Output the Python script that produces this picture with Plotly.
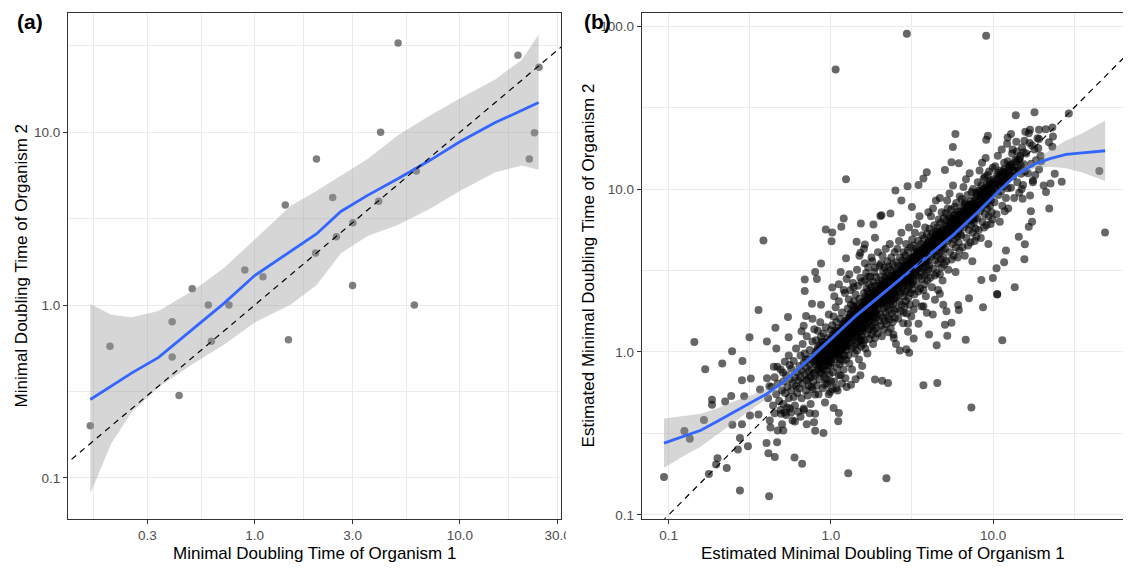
import plotly.graph_objects as go

W, H = 1133, 569
FONT = "Liberation Sans, Arial, Helvetica, sans-serif"

# ---------------- panel (a): minimal doubling times ----------------
org1_a = [0.158, 0.197, 0.396, 0.396, 0.428, 0.496, 0.594, 0.615, 0.749, 0.895,
          1.097, 1.46, 1.41, 2.0, 1.98, 5.0, 19.2, 24.3, 23.1, 21.8,
          4.11, 2.40, 6.13, 4.02, 3.01, 2.50, 3.0, 6.0]
org2_a = [0.2, 0.578, 0.80, 0.50, 0.30, 1.245, 1.0, 0.618, 1.0, 1.595,
          1.46, 0.63, 3.79, 7.0, 2.0, 32.9, 27.9, 23.8, 9.95, 7.0,
          10.0, 4.19, 5.97, 3.99, 3.0, 2.49, 1.30, 1.0]

# loess fit with its confidence band
smooth_a_x = [0.158, 0.200, 0.251, 0.340, 0.501, 0.708, 1.00, 1.50, 2.00, 2.63,
              3.55, 5.01, 7.08, 10.0, 14.8, 20.0, 24.2]
smooth_a_fit = [0.284, 0.340, 0.404, 0.498, 0.724, 1.023, 1.483, 2.042, 2.582, 3.483,
                4.315, 5.408, 6.839, 8.81, 11.35, 13.37, 14.86]
smooth_a_hi = [1.016, 0.879, 0.851, 0.925, 1.216, 1.641, 2.399, 3.758, 4.581, 5.623,
               6.998, 9.66, 12.42, 15.70, 20.14, 26.18, 36.73]
smooth_a_lo = [0.0813, 0.158, 0.240, 0.335, 0.457, 0.590, 0.794, 1.007, 1.303, 1.995,
               2.512, 2.917, 3.589, 4.571, 5.861, 6.427, 6.067]

# ---------------- panel (b): estimated minimal doubling times ----------------
est_sparse = [
    (0.0936, 0.171), (1.07, 54.2), (2.94, 89.8), (9.06, 87.3), (1.24, 11.5), (0.384, 4.84),
    (1.20, 6.59), (0.93, 5.65), (1.02, 5.41), (1.16, 5.87), (1.01, 4.79), (1.53, 6.14),
    (1.83, 6.06), (2.02, 6.84), (1.44, 4.75), (1.62, 4.57), (1.87, 5.02), (1.52, 4.07),
    (1.24, 3.76), (0.87, 3.49), (0.80, 3.10), (0.69, 2.79), (0.82, 2.80), (0.69, 2.37),
    (1.02, 2.49),
    (13.8, 28.4), (18.0, 29.6), (29.3, 29.1), (5.86, 21.8), (9.28, 21.2), (9.07, 20.1),
    (5.65, 18.1), (12.9, 21.8), (12.3, 20.7), (15.8, 22.5), (16.9, 23.1), (19.2, 23.1),
    (21.1, 23.3), (23.2, 23.9), (23.4, 21.0), (22.1, 19.4), (23.2, 18.2), (19.2, 20.3),
    (45.2, 12.9), (49.0, 5.42), (26.5, 11.1), (24.0, 12.4), (22.6, 10.8), (20.5, 10.5),
    (21.2, 9.59), (22.2, 7.59), (17.6, 11.3), (16.9, 9.14), (17.1, 7.30), (17.4, 6.29),
    (16.6, 5.86), (15.2, 8.73), (14.4, 5.10), (15.7, 4.59), (15.6, 3.71), (13.6, 2.50),
    (11.7, 3.55), (12.0, 4.19), (10.6, 2.25), (9.97, 2.84), (8.46, 2.77), (10.5, 3.27),
    (3.90, 12.7), (3.72, 11.6), (5.05, 13.1), (5.54, 14.6), (6.15, 14.4), (2.50, 9.80),
    (2.97, 10.4), (3.47, 10.6), (2.05, 6.90), (2.33, 7.07), (2.72, 8.52), (3.16, 7.77),
    (4.70, 8.81),
    (0.144, 1.15), (0.168, 0.783), (0.214, 0.849), (0.246, 1.01), (0.285, 0.881),
    (0.315, 1.23), (0.358, 1.81), (0.403, 1.16), (0.455, 1.41), (0.544, 1.64),
    (0.549, 1.23), (0.703, 1.66), (0.765, 1.98), (0.869, 1.95), (0.659, 1.34),
    (0.461, 1.05), (0.468, 0.813), (0.445, 0.813), (0.507, 0.748), (0.557, 0.833),
    (0.404, 0.690), (0.321, 0.688), (0.283, 0.671), (0.366, 0.589), (0.418, 0.617),
    (0.185, 0.510), (0.185, 0.475), (0.243, 0.536), (0.223, 0.496), (0.292, 0.534),
    (0.165, 0.383), (0.125, 0.327), (0.135, 0.293), (0.247, 0.357), (0.283, 0.360),
    (0.317, 0.407), (0.358, 0.413), (0.275, 0.297), (0.267, 0.252), (0.308, 0.264),
    (0.401, 0.276), (0.466, 0.279), (0.412, 0.239), (0.451, 0.227), (0.200, 0.223),
    (0.196, 0.204), (0.228, 0.194), (0.177, 0.178), (0.275, 0.141), (0.416, 0.130),
    (0.597, 0.225), (0.665, 0.206), (1.28, 0.180), (0.90, 0.318), (0.80, 0.328),
    (0.787, 0.371), (0.80, 0.417), (1.04, 0.453), (1.12, 0.422), (1.11, 0.376),
    (0.681, 0.441), (0.600, 0.374), (0.519, 0.425), (0.509, 0.330), (0.569, 0.425),
    (0.493, 0.417), (0.424, 0.344), (0.539, 0.457), (1.02, 0.592), (0.80, 0.549),
    (2.20, 0.168), (7.35, 0.457), (3.72, 0.624), (4.53, 0.644), (1.87, 0.678),
    (2.07, 0.666), (2.25, 0.644), (11.4, 1.18), (6.78, 1.19), (4.49, 1.10), (5.22, 1.26),
    (3.24, 1.21), (4.03, 1.28), (3.04, 0.99), (2.66, 1.02), (2.92, 1.04), (2.52, 1.12),
    (5.54, 1.51), (5.05, 1.47), (3.47, 1.49), (2.99, 1.49), (2.99, 1.33), (2.44, 1.22),
    (8.67, 1.88), (10.6, 2.27), (7.11, 2.14), (6.09, 1.94), (6.15, 1.81), (5.16, 1.78),
    (4.70, 2.28), (4.38, 2.09), (4.93, 1.95), (4.25, 1.70), (3.90, 1.74), (3.72, 1.91),
    (3.24, 1.82), (2.81, 1.74),
    (0.92, 0.63), (1.00, 0.66), (1.08, 0.60), (1.17, 0.64), (1.25, 0.61), (1.33, 0.63),
    (1.42, 0.68), (1.52, 0.72), (0.97, 0.55), (1.12, 0.72),
    (1.05, 2.20), (1.12, 2.60), (1.20, 2.40), (1.30, 3.00), (1.38, 2.50), (1.45, 3.20),
    (1.55, 2.70), (1.62, 3.50), (1.70, 2.90), (1.78, 3.80), (1.88, 3.30), (1.95, 4.10),
    (1.15, 3.10), (1.50, 3.90), (1.25, 2.80), (1.60, 4.30),
]

est_core_low = [
    (0.41, 0.52), (0.42, 0.38), (0.43, 0.61), (0.44, 0.47), (0.45, 0.70), (0.45, 0.42),
    (0.46, 0.55), (0.47, 0.33), (0.47, 0.64), (0.48, 0.50), (0.49, 0.78), (0.49, 0.44),
    (0.50, 0.58), (0.50, 0.36),
    (0.51, 0.66), (0.51, 0.48), (0.52, 0.87), (0.52, 0.56), (0.53, 0.41), (0.53, 0.72),
    (0.54, 0.61), (0.55, 0.52), (0.55, 0.95), (0.56, 0.68), (0.56, 0.45), (0.57, 0.58),
    (0.57, 0.79), (0.58, 0.64), (0.58, 0.38), (0.59, 0.53), (0.59, 0.88), (0.60, 0.70),
    (0.60, 0.47), (0.61, 0.62), (0.61, 1.05), (0.62, 0.56), (0.62, 0.75), (0.63, 0.43),
    (0.63, 0.67),
    (0.64, 0.82), (0.64, 0.60), (0.65, 0.95), (0.65, 0.70), (0.66, 0.52), (0.66, 0.77),
    (0.67, 1.12), (0.67, 0.64), (0.68, 0.86), (0.68, 0.45), (0.69, 0.73), (0.69, 0.98),
    (0.70, 0.58), (0.70, 0.81), (0.71, 0.67), (0.71, 1.25), (0.72, 0.90), (0.72, 0.54),
    (0.73, 0.76), (0.73, 0.62), (0.74, 1.03), (0.74, 0.84), (0.75, 0.70), (0.75, 0.48),
    (0.76, 0.93), (0.76, 0.78), (0.77, 0.59), (0.77, 1.16), (0.78, 0.87), (0.78, 0.66),
    (0.79, 0.74), (0.79, 1.38), (0.65, 0.40), (0.68, 1.45), (0.71, 0.36), (0.74, 0.42),
    (0.77, 1.60), (0.70, 0.90), (0.73, 0.69), (0.76, 0.61),
    (0.80, 0.95), (0.80, 0.72), (0.81, 1.18), (0.81, 0.84), (0.82, 0.62), (0.82, 1.02),
    (0.83, 0.78), (0.83, 1.35), (0.84, 0.90), (0.84, 0.55), (0.85, 1.10), (0.85, 0.68),
    (0.86, 0.97), (0.86, 1.52), (0.87, 0.81), (0.87, 1.24), (0.88, 0.74), (0.88, 1.05),
    (0.89, 0.60), (0.89, 0.93), (0.90, 1.30), (0.90, 0.86), (0.91, 1.15), (0.91, 0.70),
    (0.92, 1.00), (0.92, 0.49), (0.93, 0.88), (0.93, 1.42), (0.94, 0.77), (0.94, 1.08),
    (0.95, 0.96), (0.95, 0.64), (0.96, 1.22), (0.96, 0.83), (0.97, 1.70), (0.97, 1.02),
    (0.98, 0.73), (0.98, 0.91), (0.99, 1.13), (0.99, 0.57), (1.00, 0.99), (1.00, 1.36),
    (0.82, 0.88), (0.85, 0.82), (0.88, 1.16), (0.91, 0.95), (0.94, 0.68), (0.97, 0.86),
    (0.83, 1.06), (0.87, 0.98), (0.90, 0.78), (0.93, 1.04), (0.96, 1.10), (0.99, 0.82),
    (0.86, 0.75),
]

est_core_mid = [
    (1.01, 1.20), (1.01, 0.86), (1.02, 1.46), (1.02, 1.04), (1.03, 0.75), (1.03, 1.28),
    (1.04, 0.95), (1.04, 1.65), (1.05, 1.12), (1.05, 0.66), (1.06, 1.35), (1.06, 0.90),
    (1.07, 1.18), (1.07, 1.88), (1.08, 1.00), (1.08, 1.52), (1.09, 0.80), (1.09, 1.25),
    (1.10, 1.08), (1.10, 0.58), (1.11, 1.40), (1.11, 0.93), (1.12, 1.15), (1.12, 2.05),
    (1.13, 1.30), (1.13, 0.84), (1.14, 1.02), (1.14, 1.60), (1.15, 1.22), (1.15, 0.72),
    (1.16, 0.97), (1.16, 1.36), (1.17, 1.11), (1.17, 1.75), (1.18, 0.88), (1.18, 1.27),
    (1.19, 1.05), (1.19, 1.48), (1.20, 0.78), (1.20, 1.18), (1.21, 1.33), (1.21, 0.95),
    (1.22, 2.30), (1.22, 1.09), (1.23, 1.56), (1.23, 0.69), (1.24, 1.24), (1.24, 0.90),
    (1.25, 1.42), (1.25, 1.03), (1.03, 1.10), (1.06, 1.22), (1.09, 0.98), (1.12, 1.31),
    (1.15, 1.07), (1.18, 1.42), (1.21, 1.15), (1.24, 1.08), (1.05, 0.98), (1.08, 1.32),
    (1.11, 1.20), (1.14, 0.90), (1.17, 1.28), (1.20, 1.50), (1.23, 1.20),
    (1.26, 1.55), (1.26, 1.10), (1.27, 1.85), (1.27, 1.30), (1.28, 0.95), (1.28, 1.62),
    (1.29, 1.20), (1.29, 2.10), (1.30, 1.42), (1.30, 0.85), (1.31, 1.70), (1.31, 1.15),
    (1.32, 1.50), (1.32, 2.40), (1.33, 1.28), (1.33, 1.95), (1.34, 1.05), (1.34, 1.60),
    (1.35, 1.36), (1.35, 0.78), (1.36, 1.78), (1.36, 1.18), (1.37, 1.48), (1.37, 2.65),
    (1.38, 1.66), (1.38, 1.08), (1.39, 1.32), (1.39, 2.05), (1.40, 1.56), (1.40, 0.98),
    (1.41, 1.24), (1.41, 1.82), (1.42, 1.44), (1.42, 2.25), (1.43, 1.12), (1.43, 1.64),
    (1.44, 1.35), (1.44, 1.92), (1.45, 1.02), (1.45, 1.52), (1.46, 1.74), (1.46, 1.26),
    (1.47, 2.55), (1.47, 1.40), (1.48, 1.15), (1.48, 1.88), (1.49, 1.58), (1.49, 0.90),
    (1.50, 1.32), (1.50, 2.12), (1.51, 1.70), (1.51, 1.20), (1.52, 1.48), (1.52, 2.85),
    (1.53, 1.08), (1.53, 1.80), (1.54, 1.38), (1.54, 1.62), (1.55, 2.02), (1.55, 1.25),
    (1.56, 1.52), (1.56, 0.82), (1.57, 1.90), (1.57, 1.34), (1.58, 1.68), (1.58, 1.12),
    (1.30, 1.60), (1.34, 1.40), (1.38, 1.90), (1.42, 1.30), (1.46, 1.55), (1.50, 1.75),
    (1.54, 1.18), (1.33, 1.72), (1.48, 1.46),
    (1.59, 1.95), (1.59, 1.40), (1.60, 2.30), (1.60, 1.62), (1.61, 1.18), (1.61, 2.05),
    (1.62, 1.50), (1.62, 2.75), (1.63, 1.80), (1.63, 1.05), (1.64, 2.20), (1.64, 1.45),
    (1.65, 1.92), (1.65, 3.05), (1.66, 1.60), (1.66, 2.45), (1.67, 1.30), (1.67, 2.02),
    (1.68, 1.72), (1.68, 0.98), (1.69, 2.35), (1.69, 1.52), (1.70, 1.88), (1.70, 3.30),
    (1.71, 2.12), (1.71, 1.38), (1.72, 1.66), (1.72, 2.60), (1.73, 1.98), (1.73, 1.20),
    (1.74, 1.55), (1.74, 2.28), (1.75, 1.82), (1.75, 2.90), (1.76, 1.42), (1.76, 2.08),
    (1.77, 1.70), (1.77, 2.50), (1.78, 1.28), (1.78, 1.92), (1.79, 2.20), (1.79, 1.58),
    (1.80, 3.60), (1.80, 1.78), (1.81, 1.45), (1.81, 2.38), (1.82, 2.02), (1.82, 1.12),
    (1.83, 1.65), (1.83, 2.70), (1.84, 2.15), (1.84, 1.35), (1.85, 1.88), (1.85, 3.10),
    (1.86, 1.52), (1.86, 2.32), (1.87, 1.75), (1.87, 1.22), (1.88, 2.05), (1.88, 2.55),
    (1.89, 1.62), (1.89, 2.88), (1.90, 1.95), (1.90, 1.40), (1.92, 2.25), (1.92, 1.70),
    (1.94, 2.10), (1.94, 1.30), (1.96, 1.85), (1.96, 2.62), (1.98, 1.55), (1.98, 2.40),
    (1.99, 2.00), (1.99, 3.40), (1.62, 1.90), (1.68, 2.15), (1.74, 1.92), (1.80, 2.12),
    (1.86, 1.98), (1.92, 2.05),
    (2.01, 2.45), (2.01, 1.70), (2.02, 2.90), (2.02, 2.10), (2.03, 1.45), (2.04, 2.60),
    (2.04, 3.50), (2.05, 1.95), (2.06, 2.30), (2.06, 1.25), (2.07, 2.75), (2.08, 2.05),
    (2.08, 3.90), (2.09, 1.62), (2.10, 2.45), (2.10, 3.15), (2.11, 1.85), (2.12, 2.62),
    (2.12, 1.38), (2.13, 2.20), (2.14, 3.30), (2.14, 2.00), (2.15, 1.55), (2.16, 2.85),
    (2.16, 2.35), (2.17, 1.75), (2.18, 4.30), (2.18, 2.55), (2.19, 2.12), (2.20, 1.48),
    (2.20, 3.05), (2.21, 2.40), (2.22, 1.90), (2.22, 2.72), (2.23, 3.60), (2.24, 2.25),
    (2.24, 1.65), (2.25, 2.95), (2.26, 2.08), (2.26, 1.32), (2.27, 2.58), (2.28, 3.35),
    (2.28, 1.82), (2.29, 2.30), (2.30, 2.80), (2.30, 1.58), (2.31, 4.60), (2.32, 2.18),
    (2.32, 2.50), (2.33, 1.95), (2.34, 3.20), (2.34, 1.40), (2.35, 2.65), (2.36, 2.05),
    (2.36, 3.80), (2.37, 2.38), (2.38, 1.72), (2.38, 2.92), (2.39, 2.25), (2.40, 1.52),
    (2.40, 3.45), (2.41, 2.55), (2.42, 1.98), (2.42, 2.78), (2.43, 1.28), (2.44, 2.42),
    (2.44, 3.10), (2.45, 2.12), (2.46, 1.80), (2.46, 2.68), (2.47, 4.10), (2.48, 2.32),
    (2.48, 1.62), (2.49, 2.95), (2.50, 2.20), (2.50, 2.60), (2.05, 2.55), (2.15, 2.30),
    (2.25, 2.45), (2.35, 2.30),
    (2.51, 3.00), (2.52, 2.15), (2.53, 3.55), (2.54, 2.60), (2.55, 1.85), (2.56, 3.20),
    (2.57, 4.30), (2.58, 2.42), (2.59, 2.85), (2.60, 1.60), (2.61, 3.40), (2.62, 2.55),
    (2.63, 4.80), (2.64, 2.05), (2.65, 3.05), (2.66, 2.70), (2.67, 3.80), (2.68, 1.78),
    (2.69, 2.95), (2.70, 2.30), (2.71, 3.35), (2.72, 5.40), (2.73, 2.62), (2.74, 1.95),
    (2.75, 3.15), (2.76, 2.48), (2.77, 3.65), (2.78, 2.82), (2.79, 1.50), (2.80, 2.20),
    (2.81, 4.10), (2.82, 3.00), (2.83, 2.58), (2.84, 3.45), (2.85, 1.90), (2.86, 2.75),
    (2.87, 3.90), (2.88, 2.35), (2.89, 3.20), (2.90, 2.05), (2.91, 4.60), (2.92, 2.90),
    (2.93, 3.55), (2.94, 1.72), (2.95, 2.65), (2.96, 3.10), (2.97, 2.40), (2.98, 4.20),
    (2.99, 3.35), (3.00, 2.15), (3.01, 2.80), (3.02, 3.75), (3.03, 5.80), (3.04, 2.55),
    (3.05, 3.05), (3.06, 1.95), (3.07, 3.50), (3.08, 2.70), (3.09, 4.40), (3.10, 2.30),
    (3.11, 3.25), (3.12, 2.95), (3.13, 1.65), (3.14, 3.80), (3.15, 2.60), (3.16, 3.15),
    (3.17, 4.90), (3.18, 2.42), (3.19, 3.45), (3.20, 2.85), (2.60, 3.00), (2.70, 2.80),
    (2.80, 3.30), (2.90, 3.05), (3.00, 3.10), (3.10, 3.60), (2.65, 2.35), (2.75, 2.90),
    (2.85, 3.20), (2.95, 3.40),
]

est_core_high = [
    (3.21, 3.80), (3.22, 2.70), (3.24, 4.50), (3.25, 3.30), (3.27, 2.25), (3.28, 4.05),
    (3.30, 5.40), (3.31, 3.05), (3.33, 3.60), (3.34, 2.00), (3.36, 4.30), (3.37, 3.20),
    (3.39, 6.10), (3.40, 2.60), (3.42, 3.90), (3.43, 3.45), (3.45, 4.80), (3.46, 2.35),
    (3.48, 3.70), (3.49, 2.90), (3.51, 4.20), (3.52, 6.80), (3.54, 3.30), (3.55, 2.45),
    (3.57, 4.00), (3.58, 3.10), (3.60, 4.60), (3.61, 3.55), (3.63, 1.90), (3.64, 2.80),
    (3.66, 5.20), (3.67, 3.80), (3.69, 3.25), (3.70, 4.40), (3.72, 2.40), (3.73, 3.50),
    (3.75, 4.95), (3.76, 2.95), (3.78, 4.10), (3.79, 2.60), (3.81, 5.80), (3.82, 3.65),
    (3.84, 4.50), (3.85, 2.20), (3.87, 3.35), (3.88, 3.95), (3.90, 3.05), (3.91, 5.30),
    (3.93, 4.25), (3.94, 2.75), (3.96, 3.60), (3.97, 4.70), (3.99, 7.20), (4.00, 3.20),
    (3.30, 3.70), (3.40, 4.10), (3.50, 3.85), (3.60, 3.95), (3.70, 3.70), (3.80, 4.30),
    (3.90, 4.00), (3.35, 2.95), (3.55, 3.40), (3.75, 3.60), (3.95, 4.40),
    (4.02, 4.80), (4.04, 3.40), (4.06, 5.70), (4.08, 4.15), (4.10, 2.85), (4.12, 5.10),
    (4.14, 6.80), (4.16, 3.85), (4.18, 4.55), (4.20, 2.50), (4.22, 5.40), (4.24, 4.00),
    (4.26, 7.60), (4.28, 3.25), (4.30, 4.90), (4.32, 4.35), (4.34, 6.00), (4.36, 2.95),
    (4.38, 4.70), (4.40, 3.65), (4.42, 5.30), (4.44, 8.50), (4.46, 4.15), (4.48, 3.05),
    (4.50, 5.00), (4.52, 3.90), (4.54, 5.80), (4.56, 4.45), (4.58, 2.40), (4.60, 3.50),
    (4.62, 6.50), (4.64, 4.75), (4.66, 4.05), (4.68, 5.50), (4.70, 3.00), (4.72, 4.40),
    (4.74, 6.20), (4.76, 3.70), (4.78, 5.15), (4.80, 3.30), (4.82, 7.20), (4.84, 4.60),
    (4.86, 5.60), (4.88, 2.75), (4.90, 4.20), (4.92, 4.95), (4.94, 3.80), (4.96, 6.60),
    (4.98, 5.30), (5.00, 3.45), (4.15, 4.60), (4.35, 5.05), (4.55, 4.85), (4.75, 4.90),
    (4.95, 4.60), (4.25, 4.45), (4.45, 5.45), (4.65, 5.20), (4.85, 5.00),
    (5.03, 6.00), (5.06, 4.30), (5.09, 7.10), (5.12, 5.20), (5.15, 3.60), (5.18, 6.40),
    (5.21, 8.50), (5.24, 4.80), (5.27, 5.70), (5.30, 3.20), (5.33, 6.80), (5.36, 5.00),
    (5.39, 9.40), (5.42, 4.10), (5.45, 6.10), (5.48, 5.45), (5.51, 7.50), (5.54, 3.70),
    (5.57, 5.90), (5.60, 4.60), (5.63, 6.60), (5.66, 10.5), (5.69, 5.20), (5.72, 3.90),
    (5.75, 6.30), (5.78, 4.90), (5.81, 7.80), (5.84, 5.60), (5.87, 3.10), (5.90, 4.40),
    (5.93, 8.20), (5.96, 6.00), (5.99, 5.10), (6.02, 6.90), (6.05, 3.80), (6.08, 5.50),
    (6.11, 7.30), (6.14, 4.70), (6.17, 6.50), (6.20, 4.20), (6.23, 9.00), (6.26, 5.80),
    (6.29, 7.00), (5.20, 5.90), (5.40, 6.20), (5.60, 5.80), (5.80, 6.40), (6.00, 6.10),
    (6.20, 6.70), (5.30, 5.40), (5.50, 6.60), (5.70, 6.90), (5.90, 5.70), (6.10, 6.20),
    (5.25, 7.60), (5.85, 7.00), (6.25, 5.30),
    (6.33, 7.30), (6.37, 5.20), (6.41, 8.70), (6.45, 6.30), (6.49, 4.40), (6.53, 7.80),
    (6.57, 10.3), (6.61, 5.80), (6.65, 6.90), (6.69, 3.90), (6.73, 8.30), (6.77, 6.10),
    (6.81, 11.5), (6.85, 5.00), (6.89, 7.50), (6.93, 6.60), (6.97, 9.20), (7.01, 4.50),
    (7.05, 7.10), (7.09, 5.60), (7.13, 8.00), (7.17, 12.5), (7.21, 6.40), (7.25, 4.70),
    (7.29, 7.70), (7.33, 6.00), (7.37, 9.60), (7.41, 6.80), (7.45, 3.60), (7.49, 5.40),
    (7.53, 10.0), (7.57, 7.30), (7.61, 6.20), (7.65, 8.50), (7.69, 4.80), (7.73, 6.70),
    (7.77, 8.90), (7.81, 5.70), (7.85, 7.90), (7.89, 5.10), (6.50, 7.20), (6.80, 7.60),
    (7.10, 7.40), (7.40, 8.10), (7.70, 7.60), (6.65, 8.10), (6.95, 7.90), (7.25, 8.40),
    (7.55, 6.50), (7.85, 9.50),
    (7.95, 9.20), (8.00, 6.60), (8.05, 11.0), (8.10, 8.00), (8.15, 5.60), (8.20, 9.80),
    (8.25, 13.0), (8.30, 7.30), (8.35, 8.70), (8.40, 5.00), (8.45, 10.5), (8.50, 7.70),
    (8.55, 14.5), (8.60, 6.30), (8.65, 9.50), (8.70, 8.30), (8.75, 11.6), (8.80, 5.80),
    (8.85, 9.00), (8.90, 7.00), (8.95, 10.1), (9.00, 15.5), (9.05, 8.10), (9.10, 6.00),
    (9.15, 9.70), (9.20, 7.60), (9.25, 12.2), (9.30, 8.60), (9.35, 4.60), (9.40, 6.80),
    (9.45, 12.8), (9.50, 9.30), (9.55, 7.90), (9.60, 10.8), (9.65, 6.10), (9.70, 8.50),
    (9.75, 11.3), (9.80, 7.20), (9.85, 10.0), (9.90, 6.50), (9.95, 13.5), (8.30, 9.60),
    (8.70, 10.0), (9.10, 10.6), (9.50, 11.0), (9.90, 9.40), (8.50, 9.10), (8.90, 11.9),
    (9.30, 10.3),
    (10.1, 11.5), (10.2, 8.30), (10.3, 13.8), (10.4, 10.0), (10.5, 7.00), (10.6, 12.3),
    (10.7, 16.0), (10.8, 9.20), (10.9, 10.9), (11.0, 6.30), (11.1, 13.0), (11.2, 9.70),
    (11.3, 17.5), (11.4, 7.90), (11.5, 11.9), (11.6, 10.4), (11.7, 14.5), (11.8, 7.30),
    (11.9, 11.2), (12.0, 8.80), (12.1, 12.6), (12.2, 19.0), (12.3, 10.1), (12.4, 7.60),
    (12.5, 12.1), (10.5, 11.0), (11.0, 12.0), (11.5, 12.8), (12.0, 11.4), (12.5, 13.6),
    (10.8, 12.6), (11.3, 11.1), (11.8, 13.3), (12.3, 14.8), (10.2, 10.6),
    (12.7, 14.0), (12.9, 10.2), (13.1, 16.5), (13.3, 12.0), (13.5, 8.80), (13.7, 15.0),
    (13.9, 19.5), (14.1, 11.0), (14.3, 13.0), (14.5, 9.50), (14.7, 16.0), (14.9, 12.4),
    (15.1, 18.0), (15.3, 10.6), (15.5, 14.2), (15.7, 12.8), (13.0, 13.6), (13.6, 13.0),
    (14.2, 15.2), (14.8, 14.0), (15.4, 16.8), (13.2, 17.5), (14.0, 17.0), (15.0, 10.0),
    (15.6, 19.8),
    (16.0, 16.5), (16.4, 12.5), (16.8, 19.2), (17.2, 14.3), (17.6, 11.0), (18.0, 17.5),
    (18.4, 15.0), (18.8, 20.5), (19.2, 13.2), (19.6, 16.0), (16.6, 22.0), (17.4, 18.5),
    (18.2, 12.2), (19.0, 17.8), (19.8, 14.8),
]

# the densest ridge of the cloud, close to the fitted curve
est_core_ridge = [
    (0.80, 0.88), (0.81, 1.00), (0.83, 0.95), (0.84, 0.80), (0.85, 0.92), (0.86, 1.05),
    (0.87, 0.87), (0.88, 0.96), (0.89, 1.10), (0.90, 0.91), (0.91, 0.82), (0.92, 1.06),
    (0.93, 0.97), (0.94, 0.89), (0.95, 1.14), (0.96, 1.00), (0.97, 0.93), (0.98, 1.08),
    (0.99, 1.20), (1.00, 0.90),
    (1.01, 1.05), (1.02, 1.16), (1.03, 0.98), (1.04, 1.24), (1.05, 1.08), (1.06, 1.00),
    (1.07, 1.30), (1.08, 1.14), (1.09, 1.02), (1.10, 1.22), (1.11, 1.10), (1.12, 0.97),
    (1.13, 1.18), (1.14, 1.36), (1.15, 1.12), (1.16, 1.26), (1.17, 1.04), (1.18, 1.20),
    (1.19, 1.34), (1.20, 1.10), (1.21, 1.24), (1.22, 1.45), (1.23, 1.30), (1.24, 1.15),
    (1.25, 1.38),
    (1.26, 1.25), (1.28, 1.44), (1.30, 1.30), (1.32, 1.58), (1.34, 1.22), (1.36, 1.48),
    (1.38, 1.36), (1.40, 1.68), (1.42, 1.52), (1.44, 1.40), (1.46, 1.64), (1.48, 1.78),
    (1.50, 1.50), (1.52, 1.62), (1.54, 1.85), (1.56, 1.42), (1.58, 1.72),
    (1.60, 1.80), (1.62, 1.62), (1.64, 1.98), (1.66, 1.75), (1.68, 2.10), (1.70, 1.66),
    (1.72, 1.90), (1.74, 2.15), (1.76, 1.82), (1.78, 2.02), (1.80, 1.92), (1.82, 2.28),
    (1.84, 1.85), (1.86, 2.10), (1.88, 2.22), (1.90, 1.78), (1.92, 2.40), (1.94, 2.00),
    (1.96, 2.18), (1.98, 2.30),
    (2.00, 2.10), (2.03, 2.36), (2.06, 2.55), (2.09, 2.20), (2.12, 2.45), (2.15, 2.05),
    (2.18, 2.70), (2.21, 2.28), (2.24, 2.52), (2.27, 2.40), (2.30, 2.18), (2.33, 2.75),
    (2.36, 2.48), (2.39, 2.62), (2.42, 2.32), (2.45, 2.85), (2.48, 2.58),
    (2.52, 2.75), (2.56, 2.92), (2.60, 2.60), (2.64, 3.10), (2.68, 2.82), (2.72, 3.00),
    (2.76, 2.70), (2.80, 3.25), (2.84, 2.95), (2.88, 3.15), (2.92, 2.78), (2.96, 3.35),
    (3.00, 3.05), (3.04, 3.25), (3.08, 2.90), (3.12, 3.50), (3.16, 3.20),
    (3.20, 3.40), (3.25, 3.85), (3.30, 3.50), (3.35, 3.25), (3.40, 3.70), (3.45, 4.05),
    (3.50, 3.55), (3.55, 3.80), (3.60, 4.20), (3.65, 3.60), (3.70, 3.95), (3.75, 4.35),
    (3.80, 3.80), (3.85, 4.10), (3.90, 3.65), (3.95, 4.55),
    (4.00, 4.00), (4.06, 4.40), (4.12, 4.20), (4.18, 4.80), (4.24, 4.25), (4.30, 4.60),
    (4.36, 5.00), (4.42, 4.45), (4.48, 4.75), (4.54, 5.20), (4.60, 4.55), (4.66, 4.90),
    (4.72, 5.35), (4.78, 4.70), (4.84, 5.10), (4.90, 5.50), (4.96, 4.85),
    (5.05, 5.30), (5.15, 5.70), (5.25, 5.10), (5.35, 5.50), (5.45, 6.00), (5.55, 5.40),
    (5.65, 5.85), (5.75, 6.30), (5.85, 5.60), (5.95, 6.10), (6.05, 6.60), (6.15, 5.90),
    (6.25, 6.40),
    (6.35, 6.80), (6.50, 6.20), (6.65, 7.00), (6.80, 6.50), (6.95, 7.40), (7.10, 6.80),
    (7.25, 7.20), (7.40, 7.80), (7.55, 7.00), (7.70, 8.10), (7.85, 7.40),
    (8.00, 8.40), (8.20, 7.80), (8.40, 8.90), (8.60, 8.20), (8.80, 9.40), (9.00, 8.60),
    (9.20, 9.90), (9.40, 9.00), (9.60, 10.4), (9.80, 9.50),
    (10.0, 10.8), (10.3, 10.2), (10.6, 11.4), (10.9, 10.6), (11.2, 12.0), (11.5, 11.0),
    (11.8, 12.4), (12.1, 11.6), (12.4, 13.0), (12.7, 12.2), (13.0, 14.2), (13.4, 12.8),
    (13.8, 14.6), (14.2, 13.6), (14.6, 15.4),
]

smooth_b_x = [0.0936, 0.126, 0.158, 0.200, 0.251, 0.316, 0.398, 0.501, 0.708, 1.0,
              1.41, 2.0, 2.82, 3.98, 5.62, 7.94, 11.2, 14.1, 17.8, 22.4, 28.2, 35.5, 49.1]
smooth_b_fit = [0.276, 0.305, 0.331, 0.376, 0.428, 0.484, 0.550, 0.646, 0.875, 1.197,
                1.652, 2.203, 2.924, 3.855, 5.176, 7.129, 10.02, 12.33, 14.16, 15.38,
                16.33, 16.67, 17.18]
smooth_b_hi = [0.390, 0.403, 0.417, 0.452, 0.497, 0.537, 0.592, 0.679, 0.908, 1.233,
               1.698, 2.265, 3.006, 3.963, 5.321, 7.328, 10.30, 12.79, 15.00, 17.26,
               19.86, 21.98, 26.36]
smooth_b_lo = [0.195, 0.232, 0.263, 0.313, 0.368, 0.437, 0.511, 0.614, 0.843, 1.161,
               1.607, 2.143, 2.844, 3.750, 5.035, 6.934, 9.75, 11.89, 13.37, 13.71,
               13.43, 12.65, 11.19]

# axis breaks
ticks_a_x = [0.3, 1, 3, 10, 30]
labels_a_x = ["0.3", "1.0", "3.0", "10.0", "30.0"]
ticks_a_y = [0.1, 1, 10]
labels_a_y = ["0.1", "1.0", "10.0"]
ticks_b = [0.1, 1, 10, 100]
labels_b = ["0.1", "1.0", "10.0", "100.0"]

est_pairs = est_sparse + est_core_low + est_core_mid + est_core_high + est_core_ridge
org1_b = [p[0] for p in est_pairs]
org2_b = [p[1] for p in est_pairs]


def minor_breaks(major):
    """Geometric midpoints between log-scale breaks, plus one step beyond each end."""
    mids = [(a * b) ** 0.5 for a, b in zip(major[:-1], major[1:])]
    lo = major[0] / (mids[0] / major[0])
    hi = major[-1] * (major[-1] / mids[-1])
    return [lo] + mids + [hi]


RIBBON = "rgba(153,153,153,0.4)"
BLUE = "#3366FF"

fig = go.Figure()


def add_panel(xs, ys, sx, sfit, slo, shi, xa, ya, msize, alpha, ident):
    fig.add_trace(go.Scatter(x=xs, y=ys, mode="markers", xaxis=xa, yaxis=ya,
                             marker=dict(size=msize, color="black", opacity=alpha,
                                         line=dict(width=0)),
                             hoverinfo="skip"))
    fig.add_trace(go.Scatter(x=sx + sx[::-1], y=shi + slo[::-1], mode="lines",
                             fill="toself", fillcolor=RIBBON, line=dict(width=0),
                             xaxis=xa, yaxis=ya, hoverinfo="skip"))
    fig.add_trace(go.Scatter(x=sx, y=sfit, mode="lines", line=dict(color=BLUE, width=2.8),
                             xaxis=xa, yaxis=ya, hoverinfo="skip"))
    fig.add_trace(go.Scatter(x=ident, y=ident, mode="lines",
                             line=dict(color="black", width=1.2, dash="6px,5px"),
                             xaxis=xa, yaxis=ya, hoverinfo="skip"))


add_panel(org1_a, org2_a, smooth_a_x, smooth_a_fit, smooth_a_lo, smooth_a_hi,
          "x", "y", 7.5, 0.5, [0.01, 1000])
add_panel(org1_b, org2_b, smooth_b_x, smooth_b_fit, smooth_b_lo, smooth_b_hi,
          "x2", "y2", 8, 0.6, [0.01, 1000])

TICKFONT = dict(family=FONT, size=13.5, color="#4d4d4d")


def axis(domain, rng, tv, tt, mirror=True, anchor=None):
    d = dict(type="log", domain=domain, range=rng, tickmode="array", tickvals=tv,
             ticktext=tt, showgrid=True, gridcolor="#ebebeb", gridwidth=1.1,
             zeroline=False, showline=True, linecolor="#333333", linewidth=1.1,
             mirror=mirror, ticks="outside", ticklen=3.7, tickwidth=1.1,
             tickcolor="#333333", tickfont=TICKFONT,
             minor=dict(tickmode="array", tickvals=minor_breaks(tv), showgrid=True,
                        gridcolor="#ebebeb", gridwidth=0.55, ticks=""))
    if anchor:
        d["anchor"] = anchor
    return d


YDOM = [1 - 522.5 / H, 1 - 13 / H]
fig.update_layout(
    width=W, height=H, margin=dict(l=0, r=0, t=0, b=0),
    paper_bgcolor="white", plot_bgcolor="white", showlegend=False,
    xaxis=axis([68.4 / W, 566 / W], [-0.911, 1.493], ticks_a_x, labels_a_x, anchor="y"),
    yaxis=axis(YDOM, [-1.237, 1.691], ticks_a_y, labels_a_y, anchor="x"),
    xaxis2=axis([647.3 / W, 1.0], [-1.167, 1.801], ticks_b[:3], labels_b[:3], anchor="y2"),
    yaxis2=axis(YDOM, [-1.024, 2.081], ticks_b, labels_b, mirror=False, anchor="x2"),
)

TITLE = dict(family=FONT, size=17, color="black")
ann = [
    dict(text="Minimal Doubling Time of Organism 1", x=317 / W, y=1 - 557.5 / H),
    dict(text="Minimal Doubling Time of Organism 2", x=22 / W, y=1 - 267.5 / H, textangle=-90),
    dict(text="Estimated Minimal Doubling Time of Organism 1", x=891 / W, y=1 - 557.5 / H),
    dict(text="Estimated Minimal Doubling Time of Organism 2", x=594 / W, y=1 - 267.5 / H,
         textangle=-90),
]
for a in ann:
    fig.add_annotation(xref="paper", yref="paper", showarrow=False, font=TITLE,
                       xanchor="center", yanchor="middle", **a)
for lab, px in (("(a)", 30), ("(b)", 603)):
    fig.add_annotation(text="<b>%s</b>" % lab, xref="paper", yref="paper", x=px / W,
                       y=1 - 22 / H, showarrow=False, xanchor="center", yanchor="middle",
                       font=dict(family=FONT, size=21, color="black"))

# the left panel's last tick label is cut at the panel edge
fig.add_shape(type="rect", xref="paper", yref="paper", x0=571 / W, x1=600 / W,
              y0=1 - 548 / H, y1=1 - 524 / H, fillcolor="white", line=dict(width=0),
              layer="above")

fig.write_html("out.html")
